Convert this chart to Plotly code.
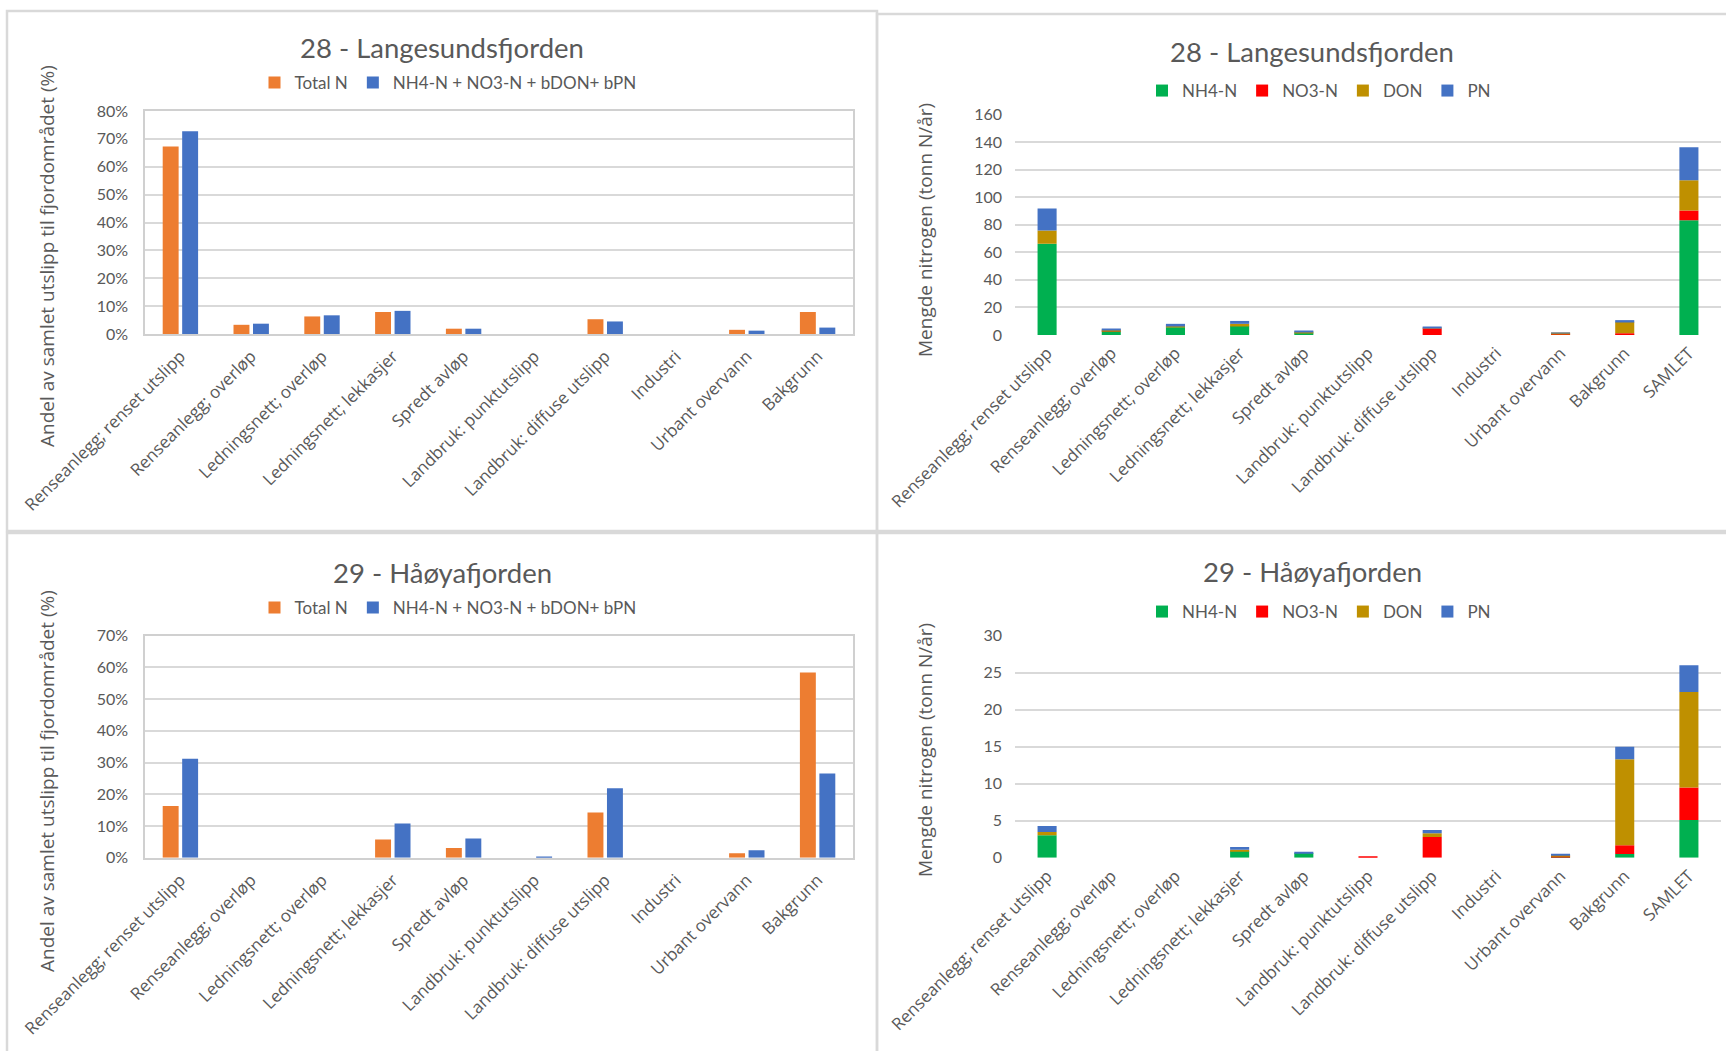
import numpy as np
import plotly.graph_objects as go

W, H = 1726, 1051

# ---------------- data ----------------
categories_pct = ["Renseanlegg; renset utslipp", "Renseanlegg; overløp", "Ledningsnett; overløp",
                  "Ledningsnett; lekkasjer", "Spredt avløp", "Landbruk: punktutslipp",
                  "Landbruk: diffuse utslipp", "Industri", "Urbant overvann", "Bakgrunn"]
categories_abs = categories_pct + ["SAMLET"]

# 28 - Langesundsfjorden : share of total discharge (%)
lan_total_n = [67.3, 3.3, 6.3, 7.9, 1.9, 0, 5.3, 0, 1.5, 7.9]
lan_bio_n = [72.7, 3.7, 6.7, 8.3, 1.9, 0, 4.5, 0, 1.2, 2.3]
# 28 - Langesundsfjorden : amount (tonn N/år)
lan_nh4 = [66.2, 2.8, 5.7, 6.7, 1.8, 0, 0, 0, 0.2, 0.1, 83.3]
lan_no3 = [0, 0.1, 0, 0, 0, 0, 4.9, 0, 0.7, 1.2, 7.0]
lan_don = [9.7, 0.8, 1.0, 1.4, 0.2, 0, 0.5, 0, 0.2, 8.3, 22.0]
lan_pn = [15.9, 0.5, 1.4, 2.1, 0.6, 0, 0.7, 0, 0.6, 1.2, 23.9]

# 29 - Håøyafjorden : share (%)
hoy_total_n = [16.3, 0, 0, 5.8, 3.1, 0, 14.3, 0, 1.4, 58.4]
hoy_bio_n = [31.2, 0, 0, 10.8, 6.1, 0.4, 21.9, 0, 2.4, 26.6]
# 29 - Håøyafjorden : amount (tonn N/år)
hoy_nh4 = [3.05, 0, 0, 0.95, 0.65, 0, 0, 0, 0.05, 0.5, 5.1]
hoy_no3 = [0, 0, 0, 0, 0, 0.2, 2.8, 0, 0.2, 1.2, 4.4]
hoy_don = [0.45, 0, 0, 0.15, 0, 0, 0.5, 0, 0.1, 11.6, 12.9]
hoy_pn = [0.8, 0, 0, 0.35, 0.12, 0, 0.45, 0, 0.1, 1.7, 3.6]

pct_series = ["Total N", "NH4-N + NO3-N + bDON+ bPN"]
abs_series = ["NH4-N", "NO3-N", "DON", "PN"]

# ---------------- style ----------------
C_ORANGE, C_BLUE = "#ED7D31", "#4472C4"
abs_colors = ["#00B050", "#FF0000", "#BF9000", "#4472C4"]
TXT = "#595959"
GRID = "#D9D9D9"
TICKFONT = dict(family="Lato", size=16, color=TXT)
CATFONT = dict(family="Open Sans", size=17, color=TXT)


def px_x(p):
    return p / W


def px_y(p):
    return 1 - p / H


fig = go.Figure()

panels = [
    ("x", "y", "28 - Langesundsfjorden", "pct", (lan_total_n, lan_bio_n), 80, 10,
     (145, 853, 111, 334), "legend", (448, 83), (442, 47), (47, 256)),
    ("x2", "y2", "28 - Langesundsfjorden", "abs", (lan_nh4, lan_no3, lan_don, lan_pn), 160, 20,
     (1015, 1721, 114.5, 335), "legend2", (1319, 91), (1312, 51), (925, 230)),
    ("x3", "y3", "29 - Håøyafjorden", "pct", (hoy_total_n, hoy_bio_n), 70, 10,
     (145, 853, 635.7, 857.8), "legend3", (448, 608), (442, 572), (47, 781)),
    ("x4", "y4", "29 - Håøyafjorden", "abs", (hoy_nh4, hoy_no3, hoy_don, hoy_pn), 30, 5,
     (1015, 1721, 635.7, 857.8), "legend4", (1319, 612), (1312, 571), (925, 750)),
]

annotations = []
layout_axes = {}
for xa, ya, title, kind, data, ymax, dtick, box, leg, legpos, tpos, ytpos in panels:
    x0, x1, ytop, ybot = box
    if kind == "pct":
        cats = categories_pct
        for vals, name, col, off in zip(data, pct_series, [C_ORANGE, C_BLUE], [-0.25, 0.025]):
            fig.add_trace(go.Bar(x=cats, y=vals, name=name, marker_color=col, marker_line_width=0,
                                 width=0.225, offset=off, xaxis=xa, yaxis=ya, legend=leg))
        ytitle = "Andel av samlet utslipp til fjordområdet (%)"
        suffix = "%"
    else:
        cats = categories_abs
        base = np.zeros(len(cats))
        for vals, name, col in zip(data, abs_series, abs_colors):
            fig.add_trace(go.Bar(x=cats, y=vals, base=base.copy(), name=name, marker_color=col,
                                 marker_line_width=0, width=0.297, offset=-0.1485,
                                 xaxis=xa, yaxis=ya, legend=leg))
            base = base + np.array(vals)
        ytitle = "Mengde nitrogen (tonn N/år)"
        suffix = ""
    frame = kind == "pct"
    xkey = "xaxis" + xa[1:]
    ykey = "yaxis" + ya[1:]
    layout_axes[xkey] = dict(domain=[px_x(x0), px_x(x1)], anchor=ya, type="category",
                             tickangle=-45, tickfont=CATFONT, ticks="", showgrid=False,
                             showline=frame, linecolor="#D0D0D0", linewidth=1.5, mirror=frame,
                             ticklabelstandoff=4, automargin=False, fixedrange=True)
    layout_axes[ykey] = dict(domain=[px_y(ybot), px_y(ytop)], anchor=xa, range=[0, ymax],
                             dtick=dtick, tick0=0, ticksuffix=suffix, tickfont=TICKFONT, ticks="",
                             showgrid=True, gridcolor=GRID, gridwidth=2, zeroline=False,
                             showline=frame, linecolor="#D0D0D0", linewidth=1.5, mirror=frame,
                             ticklabelstandoff=12, automargin=False, fixedrange=True)
    layout_axes[leg] = dict(orientation="h", x=px_x(legpos[0]), y=px_y(legpos[1]),
                            xanchor="center", yanchor="middle", bgcolor="rgba(0,0,0,0)",
                            font=dict(family="Lato", size=17, color=TXT), traceorder="normal")
    annotations.append(dict(text=title, x=px_x(tpos[0]), y=px_y(tpos[1]), xref="paper", yref="paper",
                            showarrow=False, xanchor="center", yanchor="middle",
                            font=dict(family="Lato", size=27.5, color=TXT)))
    annotations.append(dict(text=ytitle, x=px_x(ytpos[0]), y=px_y(ytpos[1]), xref="paper", yref="paper",
                            showarrow=False, xanchor="center", yanchor="middle", textangle=-90,
                            font=dict(family="Open Sans", size=19, color=TXT)))

# panel frames (chart boxes)
box_line = dict(color="#D9D9D9", width=2.5)
frames_px = [(7, 11, 877, 531), (877, 14, 1740, 531), (7, 533, 877, 1070), (877, 533, 1740, 1070)]
shapes = [dict(type="rect", xref="paper", yref="paper", x0=px_x(a), x1=px_x(c), y0=px_y(d), y1=px_y(b),
               line=box_line, fillcolor="rgba(0,0,0,0)", layer="below") for a, b, c, d in frames_px]

fig.update_layout(width=W, height=H, margin=dict(l=0, r=0, t=0, b=0, pad=0, autoexpand=False),
                  paper_bgcolor="white", plot_bgcolor="white", barmode="group",
                  annotations=annotations, shapes=shapes, **layout_axes)

fig.write_html("out.html", config={"displayModeBar": False},
               post_script="document.body.style.margin='0';document.body.style.overflow='hidden';")
